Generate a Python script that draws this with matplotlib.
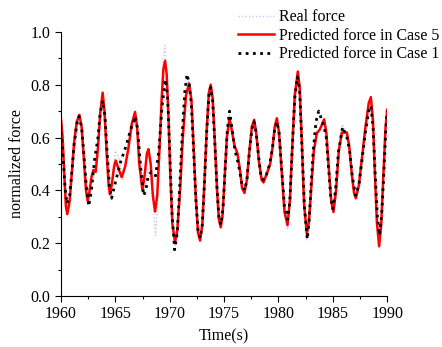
import matplotlib
matplotlib.use('Agg')
import matplotlib.pyplot as plt
from matplotlib.ticker import MultipleLocator

plt.rcParams['font.family'] = ['Liberation Serif', 'DejaVu Serif']
plt.rcParams['font.size'] = 11.5

# Predicted force in Case 5 (red solid)
t_case5 = [1960.0, 1960.15, 1960.3, 1960.45, 1960.58, 1960.8, 1961.0, 1961.2, 1961.45, 1961.69,
           1961.9, 1962.1, 1962.3, 1962.45, 1962.6, 1962.8, 1962.98, 1963.19, 1963.4, 1963.6,
           1963.83, 1964.0, 1964.2, 1964.38, 1964.5, 1964.7, 1964.88, 1965.03, 1965.3, 1965.58,
           1965.9, 1966.2, 1966.5, 1966.81, 1967.0, 1967.2, 1967.49, 1967.7, 1967.9, 1968.04,
           1968.25, 1968.45, 1968.65, 1968.85, 1969.05, 1969.25, 1969.42, 1969.57, 1969.72, 1969.9,
           1970.05, 1970.25, 1970.49, 1970.7, 1970.95, 1971.2, 1971.5, 1971.78, 1972.0, 1972.2,
           1972.4, 1972.6, 1972.79, 1973.0, 1973.2, 1973.4, 1973.6, 1973.77, 1973.95, 1974.15,
           1974.35, 1974.52, 1974.69, 1974.85, 1975.05, 1975.25, 1975.49, 1975.7, 1975.95, 1976.23,
           1976.45, 1976.65, 1976.87, 1977.1, 1977.3, 1977.55, 1977.76, 1977.95, 1978.2, 1978.45,
           1978.62, 1978.9, 1979.23, 1979.45, 1979.65, 1979.85, 1980.05, 1980.3, 1980.55, 1980.83,
           1981.05, 1981.25, 1981.5, 1981.78, 1981.95, 1982.15, 1982.35, 1982.61, 1982.8, 1983.0,
           1983.25, 1983.53, 1983.8, 1984.0, 1984.2, 1984.4, 1984.6, 1984.85, 1985.06, 1985.3,
           1985.55, 1985.83, 1986.29, 1986.5, 1986.75, 1986.95, 1987.12, 1987.4, 1987.7, 1988.0,
           1988.3, 1988.5, 1988.7, 1988.85, 1989.05, 1989.26, 1989.45, 1989.65, 1989.85, 1990.0]
case5 = [0.67, 0.60, 0.46, 0.34, 0.31, 0.36, 0.47, 0.58, 0.66, 0.686,
         0.64, 0.52, 0.40, 0.36, 0.39, 0.45, 0.477, 0.47, 0.56, 0.69,
         0.77, 0.70, 0.54, 0.42, 0.385, 0.43, 0.49, 0.513, 0.48, 0.45,
         0.49, 0.56, 0.65, 0.697, 0.64, 0.50, 0.40, 0.46, 0.54, 0.556,
         0.50, 0.38, 0.32, 0.38, 0.55, 0.74, 0.86, 0.891, 0.84, 0.66,
         0.46, 0.27, 0.203, 0.25, 0.40, 0.60, 0.76, 0.805, 0.74, 0.56,
         0.37, 0.24, 0.21, 0.27, 0.44, 0.63, 0.77, 0.80, 0.75, 0.58,
         0.40, 0.29, 0.26, 0.30, 0.45, 0.60, 0.673, 0.63, 0.57, 0.54,
         0.48, 0.41, 0.39, 0.44, 0.54, 0.64, 0.667, 0.62, 0.51, 0.44,
         0.43, 0.46, 0.50, 0.56, 0.64, 0.673, 0.62, 0.47, 0.32, 0.268,
         0.36, 0.55, 0.76, 0.85, 0.79, 0.58, 0.35, 0.235, 0.28, 0.40,
         0.55, 0.616, 0.63, 0.65, 0.669, 0.62, 0.50, 0.36, 0.318, 0.40,
         0.55, 0.619, 0.619, 0.57, 0.46, 0.39, 0.37, 0.42, 0.53, 0.64,
         0.73, 0.753, 0.66, 0.48, 0.28, 0.188, 0.27, 0.46, 0.64, 0.705]

# Predicted force in Case 1 (black dotted)
t_case1 = [1960.0, 1960.2, 1960.4, 1960.55, 1960.8, 1961.0, 1961.2, 1961.45, 1961.65, 1961.9,
           1962.1, 1962.3, 1962.55, 1962.8, 1963.1, 1963.4, 1963.6, 1963.83, 1964.05, 1964.25,
           1964.45, 1964.65, 1965.0, 1965.5, 1966.0, 1966.4, 1966.85, 1967.05, 1967.3, 1967.6,
           1967.8, 1968.0, 1968.3, 1968.7, 1969.0, 1969.3, 1969.6, 1969.8, 1970.0, 1970.2,
           1970.45, 1970.7, 1970.9, 1971.2, 1971.4, 1971.6, 1971.8, 1972.0, 1972.2, 1972.4,
           1972.6, 1972.8, 1973.0, 1973.2, 1973.4, 1973.6, 1973.75, 1973.95, 1974.15, 1974.35,
           1974.52, 1974.7, 1974.9, 1975.1, 1975.3, 1975.5, 1975.75, 1976.0, 1976.2, 1976.45,
           1976.65, 1976.9, 1977.1, 1977.3, 1977.55, 1977.75, 1977.95, 1978.2, 1978.4, 1978.6,
           1978.9, 1979.2, 1979.45, 1979.65, 1979.85, 1980.05, 1980.3, 1980.55, 1980.85, 1981.05,
           1981.25, 1981.5, 1981.75, 1981.95, 1982.15, 1982.4, 1982.65, 1982.85, 1983.0, 1983.2,
           1983.45, 1983.7, 1983.95, 1984.2, 1984.4, 1984.6, 1984.8, 1985.0, 1985.25, 1985.5,
           1985.9, 1986.3, 1986.55, 1986.8, 1987.1, 1987.4, 1987.7, 1988.0, 1988.3, 1988.5,
           1988.7, 1988.9, 1989.1, 1989.3, 1989.5, 1989.7, 1989.85, 1990.0]
case1 = [0.62, 0.52, 0.40, 0.35, 0.38, 0.47, 0.57, 0.65, 0.68, 0.64,
         0.54, 0.43, 0.34, 0.40, 0.52, 0.60, 0.69, 0.74, 0.68, 0.54,
         0.42, 0.37, 0.43, 0.51, 0.57, 0.63, 0.68, 0.63, 0.50, 0.38,
         0.40, 0.45, 0.47, 0.455, 0.55, 0.72, 0.82, 0.76, 0.55, 0.32,
         0.175, 0.24, 0.40, 0.65, 0.78, 0.84, 0.80, 0.72, 0.55, 0.37,
         0.25, 0.22, 0.27, 0.43, 0.62, 0.76, 0.79, 0.74, 0.58, 0.41,
         0.30, 0.27, 0.33, 0.48, 0.63, 0.70, 0.63, 0.55, 0.52, 0.47,
         0.42, 0.40, 0.44, 0.53, 0.63, 0.66, 0.62, 0.52, 0.45, 0.44,
         0.46, 0.50, 0.56, 0.63, 0.66, 0.62, 0.48, 0.34, 0.29, 0.36,
         0.54, 0.75, 0.83, 0.78, 0.58, 0.33, 0.215, 0.30, 0.42, 0.55,
         0.66, 0.70, 0.67, 0.64, 0.60, 0.49, 0.38, 0.33, 0.40, 0.54,
         0.64, 0.60, 0.55, 0.45, 0.38, 0.42, 0.52, 0.62, 0.70, 0.72,
         0.64, 0.46, 0.30, 0.23, 0.31, 0.47, 0.61, 0.70]

# Real force (faint dotted)
t_real = [1960.0, 1960.25, 1960.55, 1961.0, 1961.65, 1962.1, 1962.55, 1963.1, 1963.5, 1963.83,
          1964.2, 1964.6, 1965.0, 1965.35, 1965.7, 1966.2, 1966.85, 1967.3, 1967.6, 1968.0,
          1968.35, 1968.7, 1968.95, 1969.2, 1969.4, 1969.55, 1969.75, 1970.0, 1970.25, 1970.5,
          1970.9, 1971.3, 1971.65, 1972.0, 1972.4, 1972.8, 1973.3, 1973.75, 1974.2, 1974.7,
          1975.1, 1975.5, 1976.2, 1976.9, 1977.3, 1977.75, 1978.2, 1978.6, 1979.2, 1979.85,
          1980.3, 1980.85, 1981.25, 1981.75, 1982.15, 1982.6, 1983.0, 1983.6, 1984.2, 1984.6,
          1985.0, 1985.5, 1985.9, 1986.3, 1986.7, 1987.1, 1987.7, 1988.5, 1988.9, 1989.3,
          1989.65, 1990.0]
real = [0.64, 0.48, 0.34, 0.46, 0.68, 0.54, 0.35, 0.50, 0.62, 0.75,
        0.57, 0.39, 0.55, 0.52, 0.44, 0.56, 0.68, 0.50, 0.39, 0.48,
        0.42, 0.23, 0.40, 0.70, 0.90, 0.95, 0.82, 0.52, 0.27, 0.19,
        0.39, 0.68, 0.83, 0.72, 0.37, 0.22, 0.53, 0.79, 0.58, 0.27,
        0.46, 0.69, 0.53, 0.40, 0.53, 0.66, 0.52, 0.44, 0.50, 0.66,
        0.48, 0.25, 0.54, 0.84, 0.58, 0.21, 0.42, 0.66, 0.65, 0.49,
        0.33, 0.55, 0.65, 0.60, 0.47, 0.38, 0.53, 0.73, 0.46, 0.22,
        0.47, 0.70]

fig = plt.figure(figsize=(4.42, 3.47), dpi=100)
ax = fig.add_axes([0.138, 0.147, 0.738, 0.761])

ax.plot(t_real, real, color='#c8c8f0', lw=1.0, linestyle=(0, (1, 1.5)), label='Real force', zorder=1)
ax.plot(t_case5, case5, color='#ff0000', lw=1.8, label='Predicted force in Case 5', zorder=2)
ax.plot(t_case1, case1, color='black', lw=2.0, linestyle=(0, (1, 1.6)), label='Predicted force in Case 1', zorder=3)

ax.set_xlim(1960, 1990)
ax.set_ylim(0, 1.0)
ax.xaxis.set_major_locator(MultipleLocator(5))
ax.xaxis.set_minor_locator(MultipleLocator(2.5))
ax.yaxis.set_major_locator(MultipleLocator(0.2))
ax.yaxis.set_minor_locator(MultipleLocator(0.1))
ax.yaxis.set_major_formatter(matplotlib.ticker.FormatStrFormatter('%.1f'))
ax.tick_params(which='major', direction='out', length=4, width=0.8)
ax.tick_params(which='minor', direction='out', length=2.5, width=0.8)
ax.spines['top'].set_visible(False)
ax.spines['right'].set_visible(False)

ax.set_xlabel('Time(s)')
ax.set_ylabel('normalized force')

fig.legend(loc='upper right', bbox_to_anchor=(1.02, 1.005), frameon=False,
           handlelength=2.3, handletextpad=0.3, labelspacing=0.15, borderaxespad=0.3)

fig.savefig('out.png', dpi=100)
